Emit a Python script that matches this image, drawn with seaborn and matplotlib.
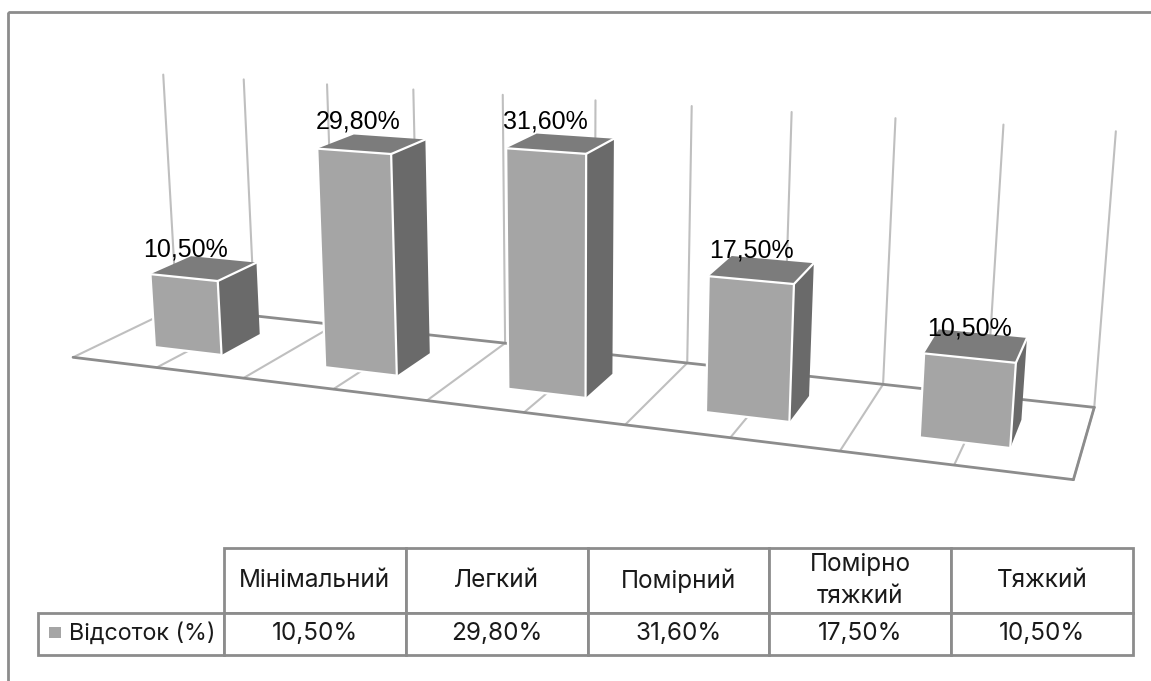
import numpy as np
import pandas as pd
import seaborn as sns
from matplotlib import pyplot as plt
from matplotlib.patches import Polygon, Rectangle
from matplotlib.table import Table
from matplotlib.transforms import IdentityTransform, Transform

WIDTH, HEIGHT = 1151, 681

categories = ["Мінімальний", "Легкий", "Помірний", "Помірно\nтяжкий", "Тяжкий"]
values = [10.5, 29.8, 31.6, 17.5, 10.5]
value_labels = ["10,50%", "29,80%", "31,60%", "17,50%", "10,50%"]
series_name = "Відсоток (%)"

AXIS_MAX = 35
FRONT_COLOR = "#A5A5A5"
SIDE_COLOR = "#6A6A6A"
TOP_COLOR = "#7C7C7C"
GRID_COLOR = "#BFBFBF"
EDGE_COLOR = "#8C8C8C"

# view of the 3d scene: (x, depth, value, 1) -> image pixel, homogeneous
CAMERA = np.array([
    [161.6, 120.21, -0.58761, 73.068],
    [7.287, -20.978, -7.3533, 357.29],
    [-0.035835, 0.094212, -0.0010328, 1.0],
])


def project(x, depth, z):
    """Scene position to display pixels (origin bottom left)."""
    x, depth, z = np.broadcast_arrays(x, depth, z)
    scene = np.stack([x, depth, z, np.ones_like(x)], axis=-1).astype(float)
    image = scene @ CAMERA.T
    return np.stack([image[..., 0] / image[..., 2], HEIGHT - image[..., 1] / image[..., 2]], axis=-1)


class DepthPlane(Transform):
    """Maps (category position, value) of a barplot onto a plane at a given depth."""
    input_dims = 2
    output_dims = 2

    def __init__(self, plane):
        super().__init__()
        self.plane = plane

    def transform_non_affine(self, values):
        values = np.asarray(values)
        return project(values[:, 0] + 0.5, self.plane, values[:, 1])


sns.set_theme(style="white")
plt.rcParams["font.family"] = ["Liberation Sans", "DejaVu Sans"]

fig = plt.figure(figsize=(WIDTH / 100, HEIGHT / 100), dpi=100)
ax = fig.add_axes([0, 0, 1, 1])
ax.patch.set_alpha(0)
frame_ax = fig.add_axes([0, 0, 1, 1], zorder=-1)
frame_ax.set_xlim(0, WIDTH)
frame_ax.set_ylim(HEIGHT, 0)
frame_ax.axis("off")

pixels = IdentityTransform()
df = pd.DataFrame({"category": categories, "value": values})
sns.barplot(data=df, x="category", y="value", color=FRONT_COLOR, saturation=1, width=0.4,
            edgecolor="white", linewidth=1.6, ax=ax, zorder=5)
ax.axis("off")

# back wall and floor grid, every half category
for pos in np.arange(0, 5.01, 0.5):
    ax.plot(*project([pos, pos], 1, [0, AXIS_MAX]).T, transform=pixels, color=GRID_COLOR, lw=1.5, clip_on=False, zorder=1)
    ax.plot(*project([pos, pos], [0, 1], 0).T, transform=pixels, color=GRID_COLOR, lw=1.5, clip_on=False, zorder=1)
ax.plot(*project([0, 5], 1, 0).T, transform=pixels, color=EDGE_COLOR, lw=2, clip_on=False, zorder=2)
ax.plot(*project([0, 5], 0, 0).T, transform=pixels, color=EDGE_COLOR, lw=2, clip_on=False, zorder=2)
ax.plot(*project([5, 5], [0, 1], 0).T, transform=pixels, color=EDGE_COLOR, lw=2, clip_on=False, zorder=2)

front, back = 0.3, 0.7
label_shift = [(2, -2), (4, 0), (0, 0), (0, 0), (0, 0)]
for bar, label, shift in zip(list(ax.patches), value_labels, label_shift):
    left = bar.get_x() + 0.5
    right = left + bar.get_width()
    height = bar.get_height()
    bar.set_transform(DepthPlane(front))
    bar.set_clip_on(False)
    side = project([right, right, right, right], [front, back, back, front], [0, 0, height, height])
    top = project([left, right, right, left], [front, front, back, back], height)
    ax.add_patch(Polygon(side, closed=True, transform=pixels, facecolor=SIDE_COLOR, edgecolor="none",
                         clip_on=False, zorder=3))
    ax.add_patch(Polygon(top, closed=True, transform=pixels, facecolor=TOP_COLOR, edgecolor="none",
                         clip_on=False, zorder=3))
    # white seam between top and side, the barplot edge does the front
    ax.plot(*project(right, [front, back], height).T, transform=pixels, color="white", lw=1.6,
            clip_on=False, zorder=4)
    cx, cy = project((left + right) / 2, front, height)
    ax.text(cx + shift[0], cy + 30 + shift[1], label, transform=pixels, ha="center", va="center",
            fontsize=18, color="black", zorder=6)

# chart frame runs past the right and bottom edges of the picture
frame_ax.add_patch(Rectangle((8, 12), WIDTH, HEIGHT, facecolor="none", edgecolor=EDGE_COLOR, linewidth=2))

# data table under the plot, sizes as fractions of the axes
tbl = Table(frame_ax, bbox=[224 / WIDTH, 1 - 654.5 / HEIGHT, 909 / WIDTH, 106.5 / HEIGHT])
col_width = 909 / 5 / WIDTH
head_height = 65 / HEIGHT
row_height = 41.5 / HEIGHT
for col, (name, label) in enumerate(zip(categories, value_labels)):
    tbl.add_cell(0, col, col_width, head_height, text=name, loc="center", edgecolor=EDGE_COLOR)
    tbl.add_cell(1, col, col_width, row_height, text=label, loc="center", edgecolor=EDGE_COLOR)
key_cell = tbl.add_cell(1, -1, 186 / WIDTH, row_height, text=series_name, loc="left", edgecolor=EDGE_COLOR)
key_cell.PAD = 31 / 186
tbl.auto_set_font_size(False)
tbl.set_fontsize(17.5)
for cell in tbl.get_celld().values():
    cell.set_linewidth(2)
    cell.get_text().set_fontfamily(["Inter", "DejaVu Sans"])
    cell.get_text().set_color("#1A1A1A")
    cell.get_text().set_linespacing(1.45)
key_cell.get_text().set_fontsize(16.8)
frame_ax.add_table(tbl)
frame_ax.add_patch(Rectangle((49, 627), 12, 11, facecolor=FRONT_COLOR, edgecolor="none", zorder=3))

fig.savefig("out.png", dpi=100)
